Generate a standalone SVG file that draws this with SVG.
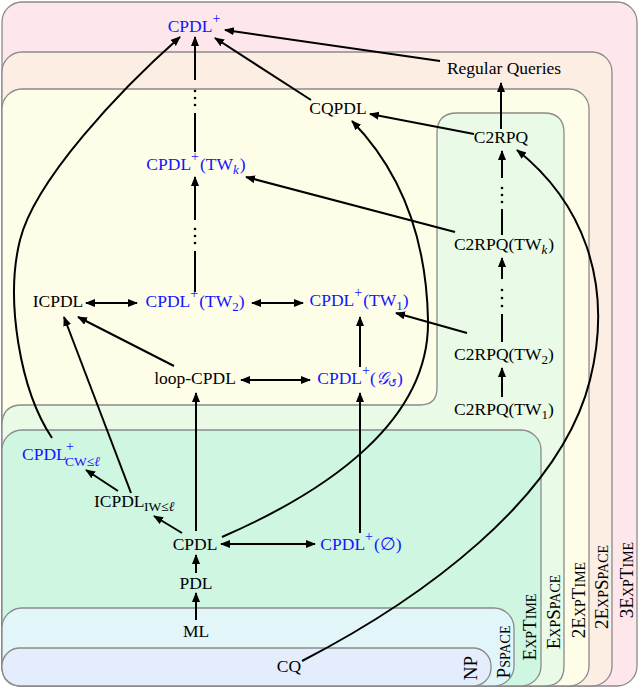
<svg xmlns="http://www.w3.org/2000/svg" width="640" height="689" viewBox="0 0 640 689">
<defs>
<marker id="ah" markerUnits="userSpaceOnUse" markerWidth="12" markerHeight="10" refX="9" refY="4" orient="auto-start-reverse">
<path d="M0,0 L10,4 L0,8 Z" fill="#000"/>
</marker>
<style>
.t{font-family:"Liberation Serif","DejaVu Serif",serif;font-size:17.5px;fill:#000}
.bl{fill:#1414ff}
.lb{font-family:"Liberation Serif","DejaVu Serif",serif;font-size:19px;fill:#000}
.sc{font-size:14px}
.e{fill:none;stroke:#000;stroke-width:2}
.a{marker-end:url(#ah)}
.d{marker-start:url(#ah);marker-end:url(#ah)}
.bx{stroke:#8a8a8a;stroke-width:1.3}
.dot{fill:#000}
</style>
</defs>
<g id="boxes">
<rect id="b-3exptime" class="bx" x="2" y="2" width="635" height="684" rx="20" fill="#fde7ea"/>
<rect id="b-2expspace" class="bx" x="2" y="52" width="610" height="634" rx="20" fill="#fdeee4"/>
<rect id="b-2exptime" class="bx" x="2" y="89" width="587" height="597" rx="20" fill="#fefde8"/>
<path id="b-expspace" class="bx" fill="#e9fbe6" d="M22,686 Q2,686 2,666 V425 Q2,405 22,405 H420 Q437,405 437,388 V133 Q437,113 457,113 H544 Q564,113 564,133 V666 Q564,686 544,686 Z"/>
<rect id="b-exptime" class="bx" x="2" y="430" width="539" height="256" rx="20" fill="#cef6e1"/>
<rect id="b-pspace" class="bx" x="2" y="608" width="512" height="78" rx="20" fill="#e2f6f9"/>
<rect id="b-np" class="bx" x="2" y="648" width="489" height="38" rx="18" fill="#e4edfc"/>
</g>
<g id="class-labels">
<text class="lb" transform="translate(477,668) rotate(-90)" text-anchor="middle">NP</text>
<text class="lb" transform="translate(510,652) rotate(-90)" text-anchor="middle">P<tspan class="sc">SPACE</tspan></text>
<text class="lb" transform="translate(536,627) rotate(-90)" text-anchor="middle">E<tspan class="sc">XP</tspan>T<tspan class="sc">IME</tspan></text>
<text class="lb" transform="translate(560,612) rotate(-90)" text-anchor="middle">E<tspan class="sc">XP</tspan>S<tspan class="sc">PACE</tspan></text>
<text class="lb" transform="translate(585,600) rotate(-90)" text-anchor="middle">2E<tspan class="sc">XP</tspan>T<tspan class="sc">IME</tspan></text>
<text class="lb" transform="translate(608,587) rotate(-90)" text-anchor="middle">2E<tspan class="sc">XP</tspan>S<tspan class="sc">PACE</tspan></text>
<text class="lb" transform="translate(633,580) rotate(-90)" text-anchor="middle">3E<tspan class="sc">XP</tspan>T<tspan class="sc">IME</tspan></text>
</g>
<g id="edges">
<path class="e a" d="M440,61 L225,30"/>
<path class="e a" d="M311,100 L215,38"/>
<path class="e a" d="M52,438 C20,390 5,300 20,240 C35,180 120,90 180,37"/>
<path class="e a" d="M195,80 V37"/>
<circle class="dot" cx="195" cy="91" r="1.3"/><circle class="dot" cx="195" cy="98" r="1.3"/><circle class="dot" cx="195" cy="105" r="1.3"/>
<path class="e" d="M195,113 V152"/>
<path class="e a" d="M195,220 V177"/>
<circle class="dot" cx="195" cy="229" r="1.3"/><circle class="dot" cx="195" cy="236" r="1.3"/><circle class="dot" cx="195" cy="243" r="1.3"/>
<path class="e" d="M195,251 V292"/>
<path class="e a" d="M455,232 L246,177"/>
<path class="e a" d="M474,134 L370,114"/>
<path class="e a" d="M501,129 V83"/>
<path class="e a" d="M502,178 V151"/>
<circle class="dot" cx="502" cy="188" r="1.3"/><circle class="dot" cx="502" cy="195" r="1.3"/><circle class="dot" cx="502" cy="202" r="1.3"/>
<path class="e" d="M502,209 V235"/>
<path class="e a" d="M502,279 V258"/>
<circle class="dot" cx="502" cy="290" r="1.3"/><circle class="dot" cx="502" cy="298" r="1.3"/><circle class="dot" cx="502" cy="306" r="1.3"/>
<path class="e" d="M502,314 V342"/>
<path class="e a" d="M502,397 V368"/>
<path class="e a" d="M467,333 L396,313"/>
<path class="e d" d="M86,303 H137"/>
<path class="e d" d="M252,303 H303"/>
<path class="e a" d="M174,366 L78,317"/>
<path class="e d" d="M241,380 H310"/>
<path class="e a" d="M360,367 V317"/>
<path class="e a" d="M196,531 V393"/>
<path class="e a" d="M360,533 V393"/>
<path class="e d" d="M221,544 H315"/>
<path class="e a" d="M182,533 L154,516"/>
<path class="e a" d="M118,491 L86,470"/>
<path class="e a" d="M131,493 L64,317"/>
<path class="e a" d="M196,573 V555"/>
<path class="e a" d="M196,620 V593"/>
<path class="e a" d="M222,537 C330,490 430,420 428,320 C426,220 390,160 352,121"/>
<path class="e a" d="M302,661 C420,600 560,500 590,380 C615,280 580,200 517,150"/>
</g>
<g id="nodes">
<g id="n-cpdlplus"><text class="t bl" x="194" y="32" text-anchor="middle">CPDL<tspan dy="-9" font-size="14">+</tspan></text></g>
<g id="n-rq"><text class="t" x="504" y="74" text-anchor="middle">Regular Queries</text></g>
<g id="n-cqpdl"><text class="t" x="338" y="114" text-anchor="middle">CQPDL</text></g>
<g id="n-c2rpq"><text class="t" x="501" y="143" text-anchor="middle">C2RPQ</text></g>
<g id="n-cpdltwk"><text class="t bl" x="196" y="170" text-anchor="middle">CPDL<tspan dy="-9" font-size="14">+</tspan><tspan dy="9" dx="1">(TW</tspan><tspan dy="4" font-size="13" font-style="italic">k</tspan><tspan dy="-4" dx="1">)</tspan></text></g>
<g id="n-c2rpqtwk"><text class="t" x="504" y="250" text-anchor="middle">C2RPQ(TW<tspan dy="4" font-size="13" font-style="italic">k</tspan><tspan dy="-4" dx="1">)</tspan></text></g>
<g id="n-icpdl"><text class="t" x="58" y="307" text-anchor="middle">ICPDL</text></g>
<g id="n-cpdltw2"><text class="t bl" x="195" y="307" text-anchor="middle">CPDL<tspan dy="-9" font-size="14">+</tspan><tspan dy="9" dx="1">(TW</tspan><tspan dy="4" font-size="13">2</tspan><tspan dy="-4">)</tspan></text></g>
<g id="n-cpdltw1"><text class="t bl" x="359" y="306" text-anchor="middle">CPDL<tspan dy="-9" font-size="14">+</tspan><tspan dy="9" dx="1">(TW</tspan><tspan dy="4" font-size="13">1</tspan><tspan dy="-4">)</tspan></text></g>
<g id="n-c2rpqtw2"><text class="t" x="504" y="360" text-anchor="middle">C2RPQ(TW<tspan dy="4" font-size="13">2</tspan><tspan dy="-4">)</tspan></text></g>
<g id="n-loopcpdl"><text class="t" x="195" y="384" text-anchor="middle">loop-CPDL</text></g>
<g id="n-cpdlg"><text class="t bl" x="360" y="384" text-anchor="middle">CPDL<tspan dy="-9" font-size="14">+</tspan><tspan dy="9">(</tspan><tspan font-family="DejaVu Serif" font-style="italic">𝒢</tspan><tspan dy="3" font-size="11" font-family="DejaVu Sans">↺</tspan><tspan dy="-3">)</tspan></text></g>
<g id="n-c2rpqtw1"><text class="t" x="504" y="415" text-anchor="middle">C2RPQ(TW<tspan dy="4" font-size="13">1</tspan><tspan dy="-4">)</tspan></text></g>
<g id="n-cpdlcw"><text class="t bl"><tspan x="22" y="460">CPDL</tspan><tspan x="66" y="451" font-size="14">+</tspan><tspan x="65" y="466" font-size="13.5">CW≤<tspan font-style="italic">ℓ</tspan></tspan></text></g>
<g id="n-icpdliw"><text class="t"><tspan x="94" y="507">ICPDL</tspan><tspan x="144" y="511" font-size="13.5">IW≤<tspan font-style="italic">ℓ</tspan></tspan></text></g>
<g id="n-cpdl"><text class="t" x="195" y="550" text-anchor="middle">CPDL</text></g>
<g id="n-cpdlempty"><text class="t bl" x="361" y="550" text-anchor="middle">CPDL<tspan dy="-9" font-size="14">+</tspan><tspan dy="9" dx="1">(∅)</tspan></text></g>
<g id="n-pdl"><text class="t" x="196" y="589" text-anchor="middle">PDL</text></g>
<g id="n-ml"><text class="t" x="196" y="637" text-anchor="middle">ML</text></g>
<g id="n-cq"><text class="t" x="289" y="672" text-anchor="middle">CQ</text></g>
</g>
</svg>
